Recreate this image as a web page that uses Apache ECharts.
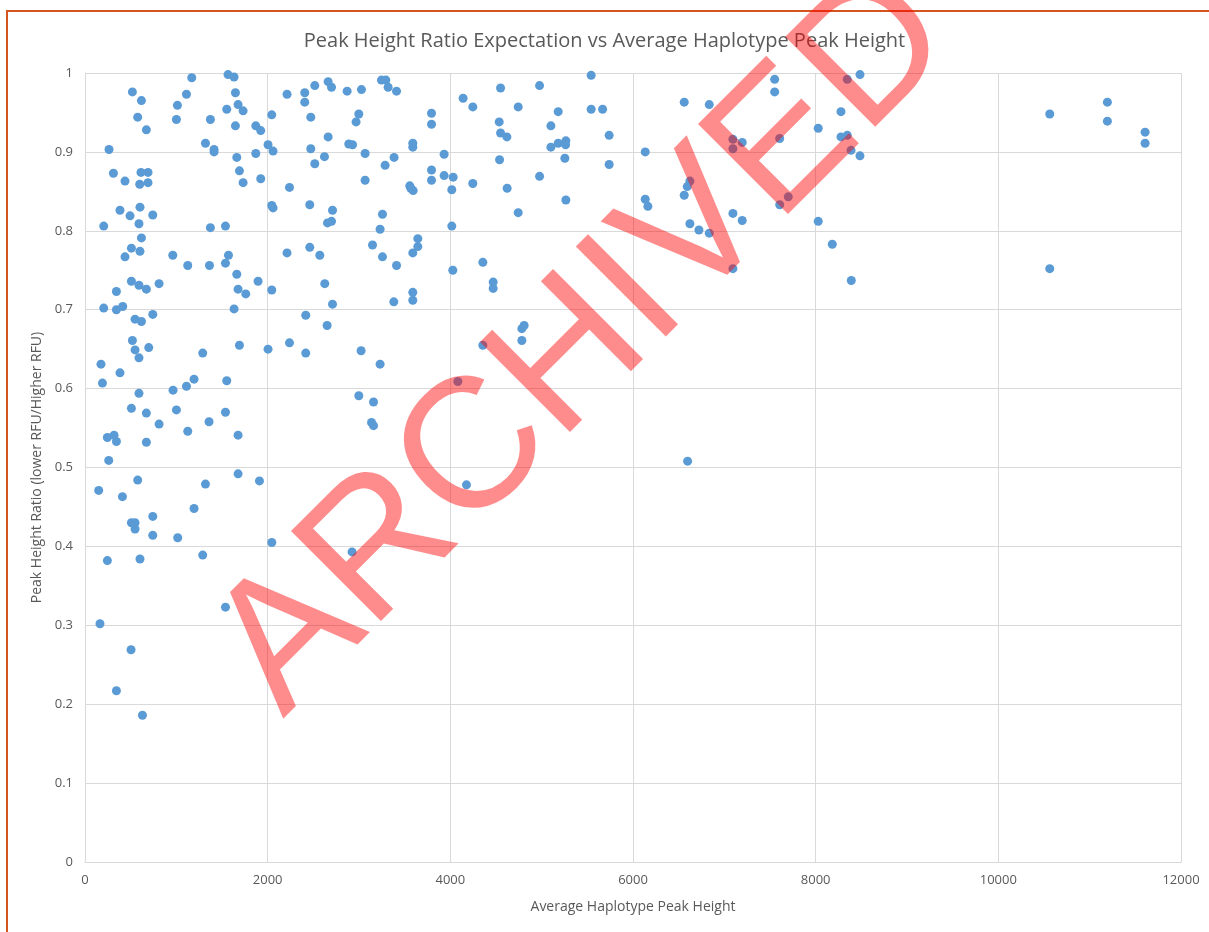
<!DOCTYPE html>
<html>
<head>
<meta charset="utf-8">
<title>Peak Height Ratio Expectation vs Average Haplotype Peak Height</title>
<script src="https://cdn.jsdelivr.net/npm/echarts@6/dist/echarts.min.js"></script>
<style>
    html, body { margin: 0; padding: 0; background: #fff; }
    #chart { width: 1209px; height: 932px; }
</style>
</head>
<body>
<div id="chart"></div>
<script>
// average haplotype peak height (RFU)
var peakHeight = [
    519, 618, 577, 672, 263, 1169, 1111, 1012, 1001, 1566, 1632, 1647, 1676, 1731, 1552, 1373, 1647, 1870, 1924,
    1319, 1413, 1413, 2045, 2004, 2059, 1870, 1662, 2212, 2406, 2406, 2516, 2662, 2699, 2472, 2662, 2472, 2870, 2888,
    311, 438, 613, 690, 599, 690, 383, 493, 602, 742, 591, 205, 1373, 1538, 1691, 1731, 1924, 2239, 2045, 2059,
    2461, 2710, 2655, 2699, 2516, 2622,
    618, 508, 602, 438, 961, 1125, 1363, 1571, 1538, 1662, 1895, 1676, 1760, 2045, 508, 591, 672, 811, 344, 205,
    344, 413, 1632, 2212, 2461, 2571, 2625, 2710,
    548, 618, 742, 519, 548, 591, 698, 175, 383, 191, 1289, 1691, 2004, 2239, 2417, 2417, 2651, 1194, 1111, 964, 1552,
    591, 508, 672, 1001, 1538, 1358,
    811, 1125, 245, 318, 344, 672, 1676, 260, 577, 150, 410, 1319, 1676, 1910, 1194, 742, 508, 548, 548, 742,
    1015, 2045, 245, 602, 1289, 1538, 164, 504, 344, 629,
    3027, 3246, 3294, 3319, 3411, 2998, 2968, 2929, 3067, 3794, 3794, 3589, 3589, 4140, 4246, 4550, 4535, 4550,
    4619, 4743, 4977, 5101, 5181, 5101, 5181, 5265, 5262, 5542, 5542, 5667, 5739, 3932, 3384, 3286, 3067, 3794,
    3794, 3556, 3567, 3593, 3932, 4031, 4016, 4246, 4539, 4622, 4977, 5254, 5265, 4743, 3257, 3231, 4016, 5739,
    3148, 3257, 3644, 3644, 3589, 3411, 4027, 4356, 4469, 4469, 3589, 3589, 3381,
    4808, 4783, 4783, 4356, 3023, 3231, 4082, 2998, 3159, 3137, 3159,
    4177, 2924,
    6561, 6835, 7551, 7551, 6134, 7094, 7094, 7196, 7606, 6623, 6594, 6561, 6134, 6163, 7094, 7196, 7606, 7700,
    6623, 6722, 6835, 7094, 8028, 8277, 8346, 8485, 8277, 8346, 8387, 8485, 8028, 8182, 8390, 6598,
    10563, 11194, 11194, 11607, 11607, 10563
];

// peak height ratio (lower RFU / higher RFU), same order as peakHeight
var peakRatio = [
    0.976, 0.965, 0.944, 0.928, 0.903, 0.994, 0.973, 0.959, 0.941, 0.998, 0.995, 0.975, 0.960, 0.952, 0.954, 0.941, 0.933, 0.933, 0.927,
    0.911, 0.903, 0.900, 0.947, 0.909, 0.901, 0.898, 0.893, 0.973, 0.975, 0.963, 0.984, 0.989, 0.982, 0.944, 0.919, 0.904, 0.977, 0.910,
    0.873, 0.863, 0.874, 0.874, 0.859, 0.861, 0.826, 0.819, 0.830, 0.820, 0.809, 0.806, 0.804, 0.806, 0.876, 0.861, 0.866, 0.855, 0.832, 0.829,
    0.833, 0.826, 0.810, 0.812, 0.885, 0.894,
    0.791, 0.778, 0.774, 0.767, 0.769, 0.756, 0.756, 0.769, 0.759, 0.745, 0.736, 0.726, 0.720, 0.725, 0.736, 0.731, 0.726, 0.733, 0.723, 0.702,
    0.700, 0.704, 0.701, 0.772, 0.779, 0.769, 0.733, 0.707,
    0.688, 0.685, 0.694, 0.661, 0.649, 0.639, 0.652, 0.631, 0.620, 0.607, 0.645, 0.655, 0.650, 0.658, 0.645, 0.693, 0.680, 0.612, 0.603, 0.598, 0.610,
    0.594, 0.575, 0.569, 0.573, 0.570, 0.558,
    0.555, 0.546, 0.538, 0.541, 0.533, 0.532, 0.541, 0.509, 0.484, 0.471, 0.463, 0.479, 0.492, 0.483, 0.448, 0.438, 0.430, 0.430, 0.422, 0.414,
    0.411, 0.405, 0.382, 0.384, 0.389, 0.323, 0.302, 0.269, 0.217, 0.186,
    0.979, 0.991, 0.991, 0.982, 0.977, 0.948, 0.938, 0.909, 0.898, 0.949, 0.935, 0.911, 0.906, 0.968, 0.957, 0.981, 0.938, 0.924,
    0.919, 0.957, 0.984, 0.933, 0.951, 0.906, 0.911, 0.914, 0.909, 0.997, 0.954, 0.954, 0.921, 0.897, 0.893, 0.883, 0.864, 0.877,
    0.864, 0.857, 0.854, 0.851, 0.870, 0.868, 0.852, 0.860, 0.890, 0.854, 0.869, 0.892, 0.839, 0.823, 0.821, 0.802, 0.806, 0.884,
    0.782, 0.767, 0.790, 0.780, 0.772, 0.756, 0.750, 0.760, 0.735, 0.727, 0.722, 0.712, 0.710,
    0.680, 0.676, 0.661, 0.655, 0.648, 0.631, 0.609, 0.591, 0.583, 0.557, 0.553,
    0.478, 0.393,
    0.963, 0.960, 0.992, 0.976, 0.900, 0.916, 0.904, 0.912, 0.917, 0.863, 0.856, 0.845, 0.840, 0.831, 0.822, 0.813, 0.833, 0.843,
    0.809, 0.801, 0.797, 0.752, 0.930, 0.951, 0.992, 0.998, 0.919, 0.921, 0.902, 0.895, 0.812, 0.783, 0.737, 0.508,
    0.948, 0.963, 0.939, 0.925, 0.911, 0.752
];

var chartTitle = 'Peak Height Ratio Expectation vs Average Haplotype Peak Height';
var xName = 'Average Haplotype Peak Height';
var yName = 'Peak Height Ratio (lower RFU/Higher RFU)';
var watermark = 'ARCHIVED';

var points = peakHeight.map(function (h, i) {
    return [h, peakRatio[i]];
});

var chart = echarts.init(document.getElementById('chart'));
var textColor = '#595959';
var gridColor = '#d9d9d9';

chart.setOption({
    animation: false,
    backgroundColor: '#fff',
    title: {
        text: chartTitle,
        left: 'center',
        top: 26,
        textStyle: {
            fontFamily: 'Open Sans',
            fontSize: 20,
            fontWeight: 'normal',
            color: textColor
        }
    },
    grid: {
        left: 85,
        top: 73,
        right: 28,
        bottom: 70
    },
    xAxis: {
        type: 'value',
        min: 0,
        max: 12000,
        interval: 2000,
        name: xName,
        nameLocation: 'middle',
        nameGap: 38,
        nameTextStyle: { color: textColor, fontSize: 14, fontFamily: 'Open Sans' },
        axisLine: { lineStyle: { color: gridColor } },
        axisTick: { show: false },
        axisLabel: {
            color: textColor, fontSize: 13, fontFamily: 'Open Sans', margin: 12,
            formatter: function (v) { return String(v); }
        },
        splitLine: { show: true, lineStyle: { color: gridColor, width: 1 } }
    },
    yAxis: {
        type: 'value',
        min: 0,
        max: 1,
        interval: 0.1,
        name: yName,
        nameLocation: 'middle',
        nameGap: 40,
        nameTextStyle: { color: textColor, fontSize: 14, fontFamily: 'Open Sans' },
        axisLine: { show: true, lineStyle: { color: gridColor } },
        axisTick: { show: false },
        axisLabel: { color: textColor, fontSize: 13, fontFamily: 'Open Sans', margin: 12 },
        splitLine: { show: true, lineStyle: { color: gridColor, width: 1 } }
    },
    series: [{
        type: 'scatter',
        data: points,
        symbol: 'circle',
        symbolSize: 9,
        itemStyle: { color: '#5b9bd5', opacity: 1 }
    }],
    graphic: [
        // orange page frame (left and top edges only visible)
        {
            type: 'polyline',
            z: 90,
            shape: { points: [[7, 932], [7, 11], [1209, 11]] },
            style: { stroke: '#d5531f', lineWidth: 2, fill: null }
        },
        // watermark
        {
            type: 'text',
            z: 100,
            x: 585,
            y: 345,
            rotation: Math.PI / 4,
            style: {
                text: watermark,
                fontFamily: 'Liberation Sans',
                fontSize: 185,
                fill: 'rgba(255, 0, 0, 0.45)',
                align: 'center',
                verticalAlign: 'middle'
            }
        }
    ]
});
</script>
</body>
</html>
